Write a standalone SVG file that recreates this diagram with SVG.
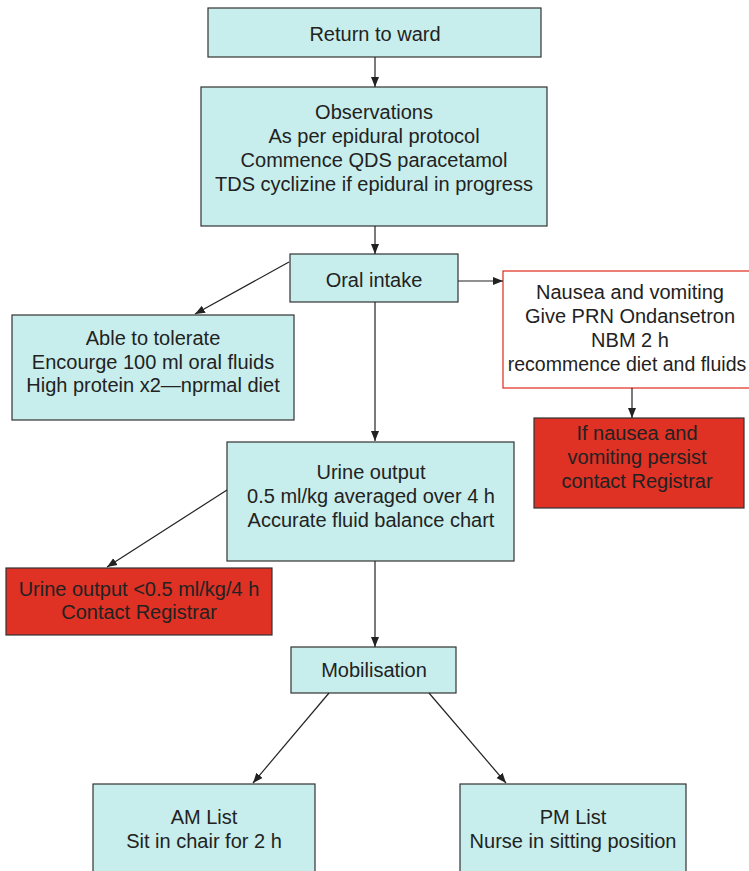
<svg xmlns="http://www.w3.org/2000/svg" width="749" height="871" viewBox="0 0 749 871">
<defs>
<style>
.box{fill:#c7eeec;stroke:#333;stroke-width:1.2}
.red{fill:#df3124;stroke:#333;stroke-width:1.2}
.warn{fill:#fff;stroke:#e0281c;stroke-width:1.2}
text{font-family:"Liberation Sans",Arial,sans-serif;font-size:20px;fill:#222;text-anchor:middle}
.conn line{stroke:#222;stroke-width:1.2;marker-end:url(#ah)}
</style>
<marker id="ah" markerUnits="userSpaceOnUse" markerWidth="10" markerHeight="10" viewBox="0 0 10 10" refX="10" refY="5" orient="auto">
<path d="M0,1 L10,5 L0,9 Z" fill="#222"/>
</marker>
</defs>
<rect width="749" height="871" fill="#fff"/>
<g id="return">
<rect class="box" x="208" y="8" width="333" height="49"/>
<text x="375" y="41">Return to ward</text>
</g>
<g id="observations">
<rect class="box" x="201" y="87" width="346" height="139"/>
<text x="374" y="119">Observations</text>
<text x="374" y="143">As per epidural protocol</text>
<text x="374" y="167">Commence QDS paracetamol</text>
<text x="374" y="191">TDS cyclizine if epidural in progress</text>
</g>
<g id="oral">
<rect class="box" x="290" y="254" width="168" height="48"/>
<text x="374" y="287">Oral intake</text>
</g>
<g id="tolerate">
<rect class="box" x="12" y="315" width="282" height="105"/>
<text x="153" y="345">Able to tolerate</text>
<text x="153" y="369">Encourge 100 ml oral fluids</text>
<text x="153" y="392">High protein x2—nprmal diet</text>
</g>
<g id="nausea">
<rect class="warn" x="503" y="271" width="260" height="117"/>
<text x="630" y="299">Nausea and vomiting</text>
<text x="630" y="323">Give PRN Ondansetron</text>
<text x="630" y="347">NBM 2 h</text>
<text x="627" y="371" style="font-size:19.5px">recommence diet and fluids</text>
</g>
<g id="persist">
<rect class="red" x="534" y="418" width="210" height="90"/>
<text x="637" y="440">If nausea and</text>
<text x="637" y="464">vomiting persist</text>
<text x="637" y="488">contact Registrar</text>
</g>
<g id="urine">
<rect class="box" x="227" y="442" width="287" height="119"/>
<text x="371" y="479">Urine output</text>
<text x="371" y="503">0.5 ml/kg averaged over 4 h</text>
<text x="371" y="527">Accurate fluid balance chart</text>
</g>
<g id="urinelow">
<rect class="red" x="6" y="568" width="266" height="67"/>
<text x="139" y="596">Urine output &lt;0.5 ml/kg/4 h</text>
<text x="139" y="619">Contact Registrar</text>
</g>
<g id="mobilisation">
<rect class="box" x="291" y="647" width="165" height="46"/>
<text x="374" y="677">Mobilisation</text>
</g>
<g id="am">
<rect class="box" x="93" y="784" width="222" height="100"/>
<text x="204" y="824">AM List</text>
<text x="204" y="848">Sit in chair for 2 h</text>
</g>
<g id="pm">
<rect class="box" x="460" y="784" width="226" height="100"/>
<text x="573" y="824">PM List</text>
<text x="573" y="848">Nurse in sitting position</text>
</g>
<g class="conn">
<line x1="375" y1="57" x2="375" y2="87"/>
<line x1="375" y1="226" x2="375" y2="254"/>
<line x1="289" y1="262" x2="195" y2="314"/>
<line x1="458" y1="281" x2="503" y2="281"/>
<line x1="632" y1="388" x2="632" y2="418"/>
<line x1="375" y1="302" x2="375" y2="441"/>
<line x1="227" y1="490" x2="107" y2="567"/>
<line x1="375" y1="561" x2="375" y2="647"/>
<line x1="329" y1="693" x2="253" y2="783"/>
<line x1="429" y1="693" x2="506" y2="783"/>
</g>
</svg>
